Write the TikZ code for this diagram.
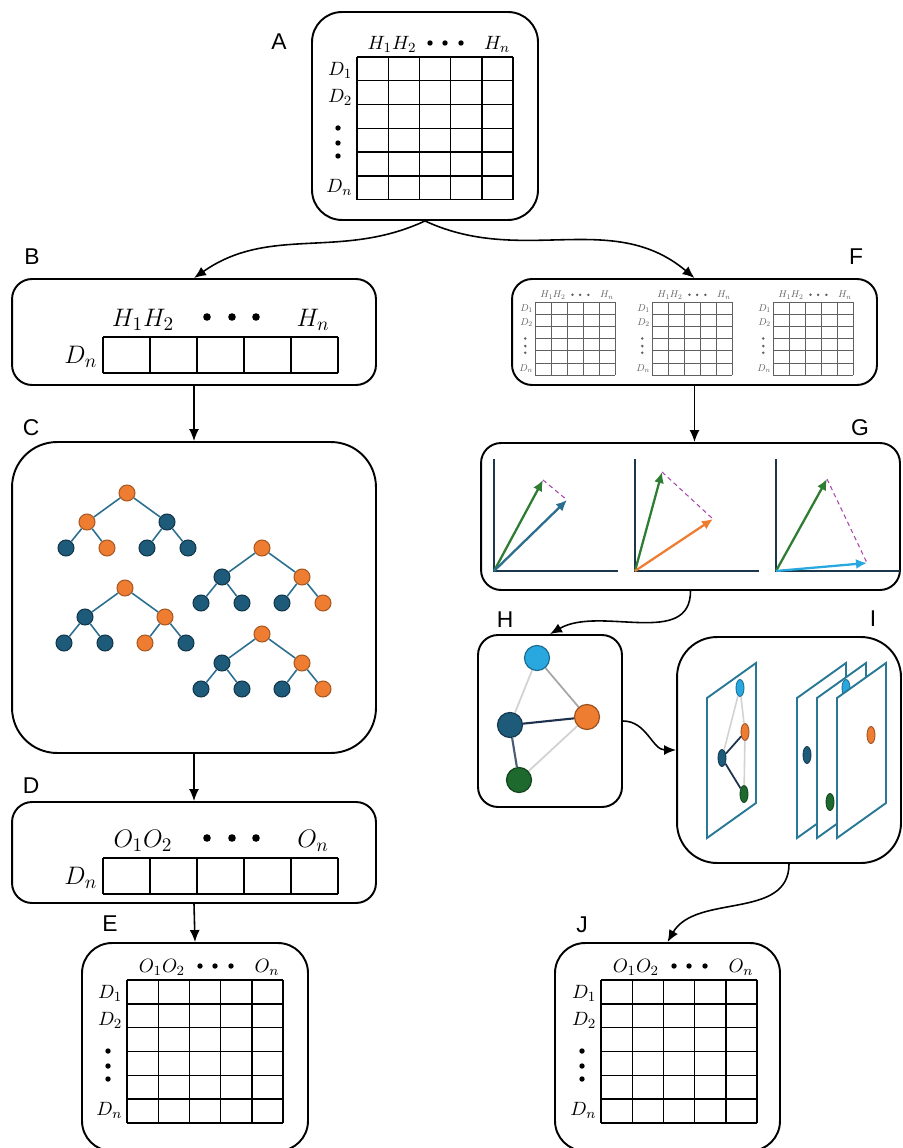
\documentclass[tikz,border=0pt]{standalone}
\usepackage{fontspec}
\setsansfont{Liberation Sans}
\usetikzlibrary{positioning,arrows.meta,calc,shapes.geometric}
\definecolor{nodeblue}{RGB}{30,90,122}
\definecolor{nodeorange}{RGB}{238,125,49}
\definecolor{edgeblue}{RGB}{43,110,143}
\definecolor{skyblue}{RGB}{41,168,224}
\definecolor{darkgreen}{RGB}{30,105,45}
\definecolor{vecgreen}{RGB}{46,125,50}
\definecolor{axisnavy}{RGB}{27,55,75}
\definecolor{planeteal}{RGB}{40,120,150}
\definecolor{dashpurple}{RGB}{170,70,170}
\definecolor{navyedge}{RGB}{30,50,80}

% 5x6 table, top-left corner of the grid at the origin
\newcommand{\tabgrid}[2]{%
  \foreach \i in {0,...,5} \draw (\i*31.2,0) -- (\i*31.2,142.8);
  \foreach \j in {0,...,6} \draw (0,\j*23.8) -- (156,\j*23.8);
  \node[tlab] (#1h) at (35,-13) {$#2_1#2_2$};
  \node[tlab] (#1hn) at (140,-13) {$#2_n$};
  \foreach \x in {73,88,104} \fill (\x,-14) circle (2.7);
  \node[tlab,anchor=east] (#1d1) at (-4,13) {$D_1$};
  \node[tlab,anchor=east] (#1d2) at (-4,40) {$D_2$};
  \foreach \y in {71,86,99} \fill (-19,\y) circle (2.7);
  \node[tlab,anchor=east] (#1dn) at (-4,130) {$D_n$};
}
% one row of five cells
\newcommand{\rowgrid}[2]{%
  \foreach \i in {0,...,5} \draw (\i*47,0) -- (\i*47,36);
  \draw (0,0) -- (235,0) (0,36) -- (235,36);
  \node[blab] (#1h) at (40,-17) {$#2_1#2_2$};
  \foreach \x in {104,129,153} \fill (\x,-20) circle (3.8);
  \node[blab] (#1hn) at (210,-17) {$#2_n$};
  \node[blab,anchor=east] (#1dn) at (-5,20) {$D_n$};
}
% binary tree: name, root position, seven node styles
\newcommand{\bintree}[9]{%
  \node[#3] (#1r) at (#2) {};
  \node[#4] (#1a) at ($(#2)+(-40,29)$) {};
  \node[#5] (#1b) at ($(#2)+(40,29)$) {};
  \node[#6] (#1c) at ($(#2)+(-61,55)$) {};
  \node[#7] (#1d) at ($(#2)+(-20,55)$) {};
  \node[#8] (#1e) at ($(#2)+(20,55)$) {};
  \node[#9] (#1f) at ($(#2)+(61,55)$) {};
  \draw[edgeblue,line width=0.9pt] (#1r)--(#1a) (#1r)--(#1b) (#1a)--(#1c) (#1a)--(#1d) (#1b)--(#1e) (#1b)--(#1f);
}

\begin{document}
\begin{tikzpicture}[x=0.02cm,y=-0.02cm,>={Latex[length=2.4mm,width=2mm]},
    panel/.style={draw,line width=1.1pt,rounded corners=#1,inner sep=0pt},
    panel/.default=0.4cm,
    tag/.style={font=\sffamily\fontsize{13}{15}\selectfont,inner sep=0pt},
    link/.style={->,line width=0.9pt},
    tlab/.style={font=\fontsize{11}{13}\selectfont,inner sep=0pt},
    blab/.style={font=\fontsize{15}{18}\selectfont,inner sep=0pt},
    tnode/.style={circle,minimum size=0.32cm,inner sep=0pt,line width=0.6pt},
    onode/.style={tnode,fill=nodeorange,draw=nodeorange!70!black},
    bnode/.style={tnode,fill=nodeblue,draw=nodeblue!60!black},
    gnode/.style={circle,minimum size=0.5cm,inner sep=0pt,line width=0.7pt,fill=#1,draw=#1!65!black},
    vdot/.style={ellipse,minimum width=0.16cm,minimum height=0.34cm,inner sep=0pt,line width=0.5pt,fill=#1,draw=#1!65!black},
    sheet/.style={draw=planeteal,line width=1.1pt,fill=white},
    vec/.style={->,line width=1.3pt,>={Latex[length=2.2mm,width=2mm]}},
    guide/.style={dashpurple,line width=0.6pt,dash pattern=on 2.5pt off 2pt}]
  \useasboundingbox (0,0) rectangle (902,1148);

  % panels
  \node[panel=0.6cm,minimum width=4.52cm,minimum height=4.16cm] (A) at (425,116) {};
  \node[panel,minimum width=7.28cm,minimum height=2.12cm] (B) at (194,332) {};
  \node[panel=0.9cm,minimum width=7.28cm,minimum height=6.22cm] (C) at (194,597.5) {};
  \node[panel,minimum width=7.28cm,minimum height=2.02cm] (D) at (194,852.5) {};
  \node[panel=0.6cm,minimum width=4.52cm,minimum height=4.16cm] (E) at (195,1047) {};
  \node[panel,minimum width=7.3cm,minimum height=2.12cm] (F) at (694.5,332) {};
  \node[panel,minimum width=8.38cm,minimum height=2.94cm] (G) at (690.5,516.5) {};
  \node[panel,minimum width=2.88cm,minimum height=3.44cm] (H) at (550,721) {};
  \node[panel=0.8cm,minimum width=4.48cm,minimum height=4.52cm] (I) at (789,750) {};
  \node[panel=0.6cm,minimum width=4.5cm,minimum height=4.16cm] (J) at (667.5,1047) {};

  \node[tag] (tA) at (279,42) {A};
  \node[tag] (tB) at (32,257) {B};
  \node[tag] (tC) at (31,428) {C};
  \node[tag] (tD) at (31,786) {D};
  \node[tag] (tE) at (110,924) {E};
  \node[tag] (tF) at (856,257) {F};
  \node[tag] (tG) at (860,428) {G};
  \node[tag] (tH) at (505,620) {H};
  \node[tag] (tI) at (873,619) {I};
  \node[tag] (tJ) at (582,925) {J};

  % tables
  \begin{scope}[shift={(357,57)},line width=0.8pt] \tabgrid{a}{H} \end{scope}
  \begin{scope}[shift={(103,337)},line width=0.8pt] \rowgrid{b}{H} \end{scope}
  \begin{scope}[shift={(103,858)},line width=0.8pt] \rowgrid{d}{O} \end{scope}
  \begin{scope}[shift={(127,980)},line width=0.8pt] \tabgrid{e}{O} \end{scope}
  \begin{scope}[shift={(601,980)},line width=0.8pt] \tabgrid{j}{O} \end{scope}
  \foreach \gx [count=\k] in {535,652,773}{
    \begin{scope}[shift={(\gx,302)},scale=0.513,transform shape,gray!75!black,line width=0.45pt]
      \tabgrid{f\k}{H}
    \end{scope}}

  % trees
  \bintree{t1}{127,493}{onode}{onode}{bnode}{bnode}{onode}{bnode}{bnode}
  \bintree{t2}{262,548}{onode}{bnode}{onode}{bnode}{bnode}{bnode}{onode}
  \bintree{t3}{125,588}{onode}{bnode}{onode}{bnode}{bnode}{onode}{bnode}
  \bintree{t4}{262,634}{onode}{bnode}{onode}{bnode}{bnode}{bnode}{onode}

  % vectors
  \foreach \ox/\gx/\gy/\cx/\cy/\cc [count=\k] in {494/543/480/567/500/edgeblue,635/662/472/713/519/nodeorange,776/827/479/867/563/skyblue}{
    \coordinate (o\k) at (\ox,571);
    \draw[axisnavy,line width=1.4pt] (\ox,459) -- (o\k) -- ++(124,0);
    \draw[guide] (\gx,\gy) -- (\cx,\cy);
    \draw[vec,vecgreen] (o\k) -- (\gx,\gy);
    \draw[vec,\cc] (o\k) -- (\cx,\cy);
  }

  % graph
  \node[gnode=skyblue] (hl) at (537,658) {};
  \node[gnode=nodeblue] (hd) at (510,725) {};
  \node[gnode=nodeorange] (ho) at (587,717) {};
  \node[gnode=darkgreen] (hg) at (519,780) {};
  \draw[gray!35,line width=1pt] (hl) -- (hd) (hg) -- (ho);
  \draw[gray!70,line width=1pt] (hl) -- (ho);
  \draw[navyedge,line width=1.2pt] (hd) -- (ho);
  \draw[navyedge!80,line width=1.2pt] (hd) -- (hg);

  % slices
  \draw[sheet] (707,698) -- ++(49,-35) -- ++(0,140) -- ++(-49,35) -- cycle;
  \node[vdot=skyblue] (pl) at (740,688) {};
  \node[vdot=nodeorange] (po) at (745,732) {};
  \node[vdot=nodeblue] (pd) at (722,758) {};
  \node[vdot=darkgreen] (pg) at (744,794) {};
  \draw[gray!35,line width=0.9pt] (pl) -- (pd) (pl) -- (po) (po) -- (pg);
  \draw[navyedge,line width=1pt] (pd) -- (po) (pd) -- (pg);
  \draw[sheet] (797,698) -- ++(49,-35) -- ++(0,140) -- ++(-49,35) -- cycle;
  \node[vdot=nodeblue] (sd) at (807,755) {};
  \draw[sheet] (817,698) -- ++(49,-35) -- ++(0,140) -- ++(-49,35) -- cycle;
  \node[vdot=skyblue] (sl) at (846,688) {};
  \node[vdot=darkgreen] (sg) at (830,802) {};
  \draw[sheet] (837,698) -- ++(49,-35) -- ++(0,140) -- ++(-49,35) -- cycle;
  \node[vdot=nodeorange] (so) at (871,735) {};

  % connectors
  \draw[link] (A.south) to[out=-155,in=35] (B.north);
  \draw[link] (A.south) to[out=-25,in=140] (F.north);
  \draw[link] (B) -- (C);
  \draw[link] (C) -- (D);
  \draw[link] (D.south) -- (E.north);
  \draw[link] (F.south) -- (F.south |- G.north);
  \draw[link] (G.south) to[out=-90,in=30] (H.north);
  \draw[link] (H.east) to[out=0,in=180] (I.west);
  \draw[link] (I.south) to[out=-90,in=60] (J.north);
\end{tikzpicture}
\end{document}
